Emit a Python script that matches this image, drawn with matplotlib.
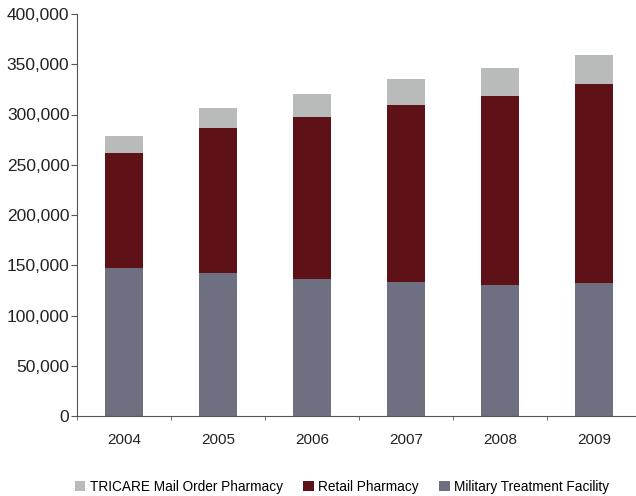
import numpy as np
import matplotlib
matplotlib.use('Agg')
import matplotlib.pyplot as plt
from matplotlib.ticker import FuncFormatter, FixedLocator

years = ['2004', '2005', '2006', '2007', '2008', '2009']
mtf = [147500, 142500, 136500, 133500, 130500, 132500]
retail = [114500, 144500, 161500, 175500, 187500, 197500]
mail_order = [17000, 19000, 22000, 26000, 28000, 29000]

c_mtf = '#6e6f80'
c_retail = '#5e1218'
c_mail = '#b9baba'

plt.rcParams['font.family'] = ['Liberation Sans', 'DejaVu Sans']

fig = plt.figure(figsize=(6.36, 4.96), dpi=100)
ax = fig.add_axes([77 / 636, 1 - 416 / 496, 1 - 77 / 636, (416 - 14) / 496])

x = np.arange(len(years))
w = 0.404
ax.bar(x, mtf, w, color=c_mtf, label='Military Treatment Facility')
ax.bar(x, retail, w, bottom=mtf, color=c_retail, label='Retail Pharmacy')
bottom2 = np.array(mtf) + np.array(retail)
ax.bar(x, mail_order, w, bottom=bottom2, color=c_mail, label='TRICARE Mail Order Pharmacy')

ax.set_xlim(-0.5, (636 - 124) / 94)
ax.set_ylim(0, 400000)
ax.set_yticks(np.arange(0, 400001, 50000))
ax.yaxis.set_major_formatter(FuncFormatter(lambda v, p: f'{int(v):,}'))
ax.set_xticks(x)
ax.set_xticklabels(years)
ax.xaxis.set_minor_locator(FixedLocator(np.arange(-0.5, 6, 1)))

for s in ['top', 'right']:
    ax.spines[s].set_visible(False)
for s in ['left', 'bottom']:
    ax.spines[s].set_color('#555555')
    ax.spines[s].set_linewidth(0.8)

ax.tick_params(axis='y', length=4, color='#555555', labelsize=12.5, labelcolor='#222222', pad=1.5)
ax.tick_params(axis='x', which='major', length=0, labelsize=11, labelcolor='#222222', pad=12)
ax.tick_params(axis='x', which='minor', length=3, color='#555555')

handles, labels = ax.get_legend_handles_labels()
leg = fig.legend(handles[::-1], labels[::-1], loc='center', bbox_to_anchor=(0.538, 0.018),
                 ncol=3, frameon=False, handlelength=0.75, handleheight=0.75,
                 handletextpad=0.35, columnspacing=1.5,
                 prop={'size': 9.8})

plt.savefig('out.png', dpi=100)
